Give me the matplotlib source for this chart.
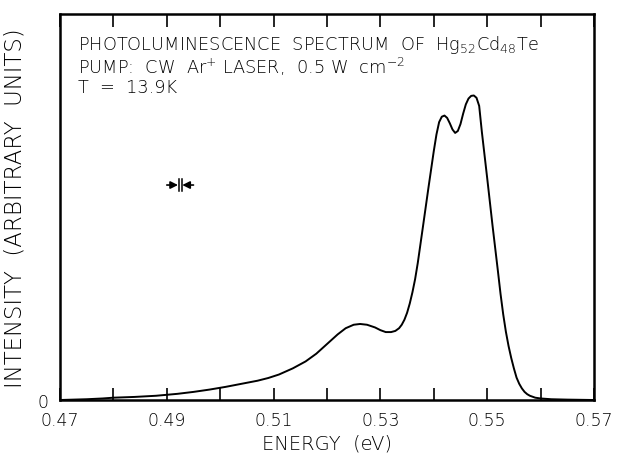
import matplotlib
matplotlib.use("Agg")
import matplotlib.pyplot as plt
import numpy as np

energy = [0.470, 0.475, 0.478, 0.480, 0.484, 0.488, 0.492, 0.495, 0.498, 0.501,
          0.504, 0.507, 0.509, 0.511, 0.5136, 0.516, 0.518, 0.520, 0.522, 0.5235,
          0.525, 0.5262, 0.5275, 0.529, 0.530, 0.531, 0.532, 0.5328, 0.5335, 0.534,
          0.5345, 0.535, 0.5355, 0.536, 0.5365, 0.537, 0.538, 0.539, 0.540, 0.5405,
          0.541, 0.5415, 0.542, 0.5425, 0.543, 0.5435, 0.544, 0.5445, 0.545, 0.5455,
          0.546, 0.5465, 0.547, 0.5475, 0.548, 0.5485, 0.549, 0.550, 0.551, 0.552,
          0.5525, 0.553, 0.5535, 0.554, 0.5545, 0.555, 0.5555, 0.556, 0.5565, 0.557,
          0.5575, 0.558, 0.559, 0.560, 0.562, 0.565, 0.570]
intensity = [0.000, 0.002, 0.004, 0.006, 0.008, 0.011, 0.016, 0.021, 0.027, 0.034,
             0.042, 0.050, 0.057, 0.066, 0.082, 0.100, 0.120, 0.145, 0.170, 0.186,
             0.195, 0.197, 0.195, 0.188, 0.181, 0.176, 0.176, 0.179, 0.186, 0.195,
             0.208, 0.226, 0.250, 0.279, 0.313, 0.355, 0.452, 0.550, 0.645, 0.688,
             0.720, 0.734, 0.737, 0.731, 0.717, 0.701, 0.692, 0.697, 0.715, 0.742,
             0.766, 0.781, 0.788, 0.789, 0.783, 0.762, 0.695, 0.575, 0.452, 0.335,
             0.275, 0.222, 0.177, 0.140, 0.109, 0.082, 0.058, 0.042, 0.030, 0.021,
             0.015, 0.011, 0.006, 0.004, 0.002, 0.001, 0.000]

xticks = [0.47, 0.48, 0.49, 0.50, 0.51, 0.52, 0.53, 0.54, 0.55, 0.56, 0.57]
xticklabels = ["0.47", "", "0.49", "", "0.51", "", "0.53", "", "0.55", "", "0.57"]

plt.rcParams['font.family'] = ['DejaVu Sans']
plt.rcParams['mathtext.fontset'] = 'custom'
plt.rcParams['mathtext.rm'] = 'DejaVu Sans:light'
plt.rcParams['mathtext.it'] = 'DejaVu Sans:light'
plt.rcParams['mathtext.default'] = 'rm'

fig = plt.figure(figsize=(6.21, 4.56), dpi=100)
ax = fig.add_axes([0.0966, 0.1206, 0.8599, 0.8464])

ax.plot(energy, intensity, color='black', lw=1.4)
ax.set_xlim(0.47, 0.57)
ax.set_ylim(0, 1)

ax.set_xticks(xticks)
ax.set_xticklabels(xticklabels, fontsize=12.5, fontweight='light')
ax.tick_params(axis='x', direction='in', length=9, width=1.2, top=True, pad=8)
ax.set_yticks([0])
ax.set_yticklabels(["0"], fontsize=12.5, fontweight='light')
ax.tick_params(axis='y', length=0, pad=8)
for s in ax.spines.values():
    s.set_linewidth(1.8)

ax.set_xlabel("ENERGY  (eV)", fontsize=14, fontweight='light', labelpad=3)
ax.set_ylabel("INTENSITY  (ARBITRARY  UNITS)", fontsize=16.5, fontweight='light', labelpad=8)

tx = 0.034
fs = 12.8
ax.text(tx, 0.922, r"PHOTOLUMINESCENCE  SPECTRUM  OF  Hg$_{52}$Cd$_{48}$Te",
        transform=ax.transAxes, fontsize=fs, fontweight='light', va='center', ha='left')
ax.text(tx, 0.866, r"PUMP:  CW  Ar$^{+}$ LASER,  0.5 W  cm$^{-2}$",
        transform=ax.transAxes, fontsize=fs, fontweight='light', va='center', ha='left')
ax.text(tx, 0.811, "T  =  13.9K",
        transform=ax.transAxes, fontsize=fs, fontweight='light', va='center', ha='left')

# resolution marker  →| |←
ry = 0.557
ax.annotate("", xy=(0.4921, ry), xytext=(0.4900, ry),
            arrowprops=dict(arrowstyle='-|>', color='black', lw=1.2, mutation_scale=11, shrinkA=0, shrinkB=0))
ax.annotate("", xy=(0.4929, ry), xytext=(0.4950, ry),
            arrowprops=dict(arrowstyle='-|>', color='black', lw=1.2, mutation_scale=11, shrinkA=0, shrinkB=0))
ax.plot([0.4922, 0.4922], [ry - 0.016, ry + 0.016], color='black', lw=1.1)
ax.plot([0.4928, 0.4928], [ry - 0.016, ry + 0.016], color='black', lw=1.1)

fig.savefig("out.png", dpi=100)
